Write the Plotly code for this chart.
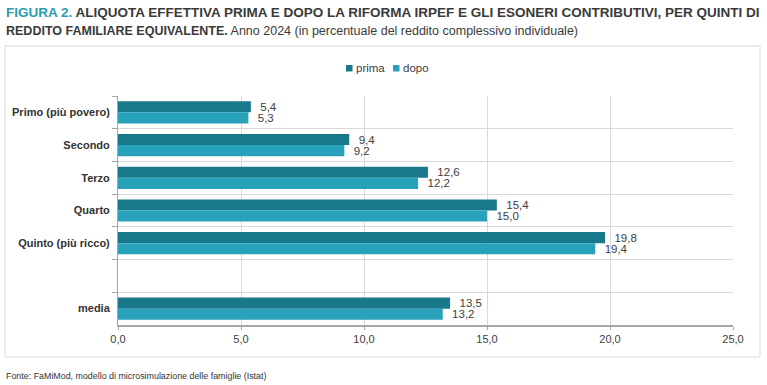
import plotly.graph_objects as go

categories = ["Primo (più povero)", "Secondo", "Terzo", "Quarto", "Quinto (più ricco)", " ", "media"]
prima = [5.4, 9.4, 12.6, 15.4, 19.8, None, 13.5]
dopo = [5.3, 9.2, 12.2, 15.0, 19.4, None, 13.2]
x_ticks = [0, 5, 10, 15, 20, 25]
series_names = ["prima", "dopo"]

FONT = "Liberation Sans, Arial, sans-serif"
C_PRIMA = "#19798B"
C_DOPO = "#28A1BB"
TXT = "#404040"

W, H = 767, 385
L, R, T, B = 118, 34, 96, 60
pw, ph = W - L - R, H - T - B

def px_x(px):
    return (px - L) / pw

def px_y(py):
    return (H - B - py) / ph

fig = go.Figure()
for name, vals, col in [(series_names[0], prima, C_PRIMA), (series_names[1], dopo, C_DOPO)]:
    fig.add_trace(go.Bar(
        y=categories, x=vals, name=name, orientation="h",
        marker=dict(color=col, line=dict(width=0)),
        texttemplate="\u00a0\u00a0%{x:.1f}", textposition="outside", constraintext="none",
        textfont=dict(family=FONT, size=11.5, color=TXT), cliponaxis=False,
        showlegend=False,
    ))

fig.update_layout(
    width=W, height=H,
    margin=dict(l=L, r=R, t=T, b=B, autoexpand=False),
    paper_bgcolor="white", plot_bgcolor="white",
    separators=",.",
    barmode="group", bargap=0.32, bargroupgap=0,
    font=dict(family=FONT, size=12, color=TXT),
    showlegend=False,
    xaxis=dict(range=[0, 25], tickvals=x_ticks, tickformat=".1f",
               showgrid=True, gridcolor="#d9d9d9", gridwidth=1,
               showline=True, linecolor="#a6a6a6", linewidth=1.5,
               ticks="outside", ticklen=3, tickcolor="#a6a6a6",
               tickfont=dict(family=FONT, size=11, color=TXT), zeroline=False,
               fixedrange=True, automargin=False),
    yaxis=dict(categoryorder="array", categoryarray=categories, autorange="reversed",
               tickson="boundaries", ticks="outside", ticklen=5, tickcolor="#a6a6a6",
               showgrid=True, gridcolor="#d9d9d9", gridwidth=1,
               showline=True, linecolor="#a6a6a6", linewidth=1,
               tickfont=dict(family=FONT, size=11, color="#333333", weight="bold"),
               ticklabelstandoff=5, fixedrange=True, automargin=False),
)

# chart frame
fig.add_shape(type="rect", xref="paper", yref="paper",
              x0=px_x(5), x1=px_x(760), y0=px_y(357), y1=px_y(46),
              line=dict(color="#d9d9d9", width=1), fillcolor="rgba(0,0,0,0)", layer="below")

# legend (drawn manually to match the small square keys)
for name, col, sx in [(series_names[0], C_PRIMA, 346), (series_names[1], C_DOPO, 393)]:
    fig.add_shape(type="rect", xref="paper", yref="paper",
                  x0=px_x(sx), x1=px_x(sx + 6.5), y0=px_y(71.5), y1=px_y(65),
                  line=dict(width=0), fillcolor=col)
    fig.add_annotation(xref="paper", yref="paper", x=px_x(sx + 7.5), y=px_y(68),
                       xanchor="left", yanchor="middle", showarrow=False, text=name,
                       font=dict(family=FONT, size=11.5, color=TXT))

fig.add_annotation(
    xref="paper", yref="paper", x=px_x(4), y=px_y(12), xanchor="left", yanchor="middle",
    align="left", showarrow=False,
    text=("<b><span style='color:#2A9BB0'>FIGURA 2.</span> ALIQUOTA EFFETTIVA PRIMA E DOPO LA RIFORMA IRPEF "
          "E GLI ESONERI CONTRIBUTIVI, PER QUINTI DI</b>"),
    font=dict(family=FONT, size=13.5, color="#3a3a3a"),
)
fig.add_annotation(
    xref="paper", yref="paper", x=px_x(4), y=px_y(31), xanchor="left", yanchor="middle",
    align="left", showarrow=False,
    text="<b>REDDITO FAMILIARE EQUIVALENTE.</b> Anno 2024 (in percentuale del reddito complessivo individuale)",
    font=dict(family=FONT, size=12.5, color="#3a3a3a"),
)
fig.add_annotation(
    xref="paper", yref="paper", x=px_x(4), y=px_y(376), xanchor="left", yanchor="middle",
    align="left", showarrow=False,
    text="Fonte: FaMiMod, modello di microsimulazione delle famiglie (Istat)",
    font=dict(family=FONT, size=8.9, color="#333333"),
)

fig.write_html("out.html")
